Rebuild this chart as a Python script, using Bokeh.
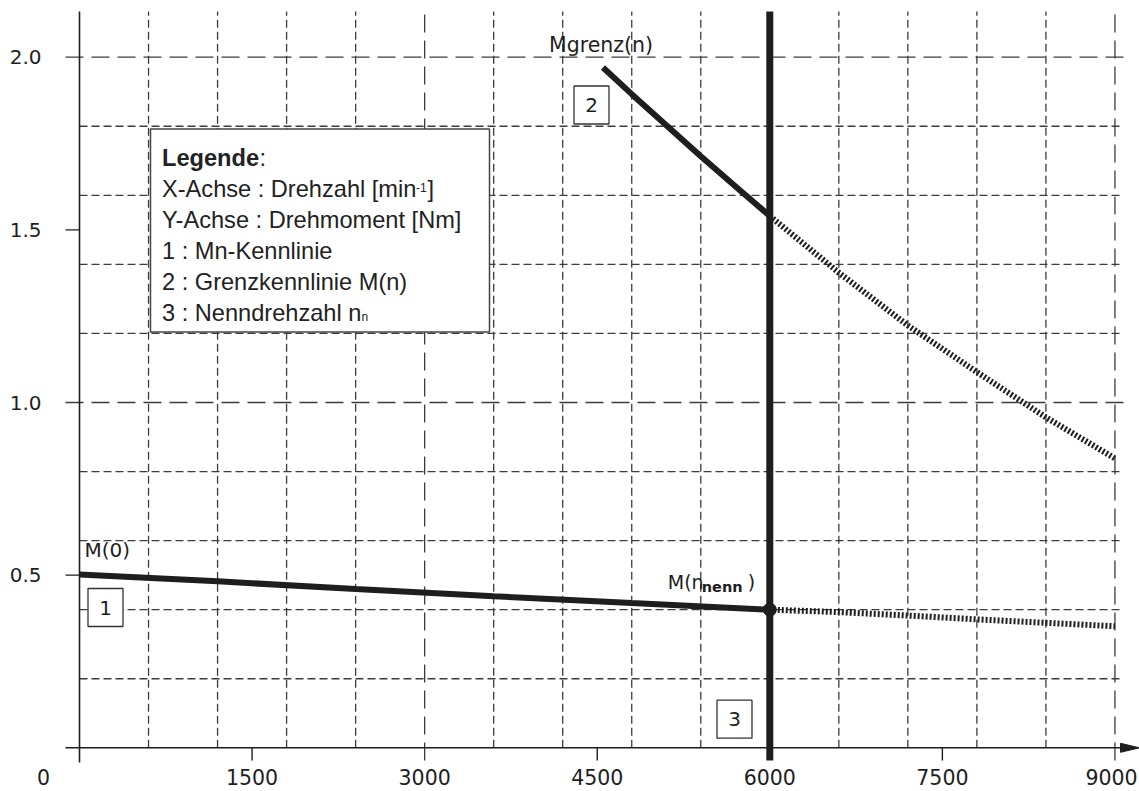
from bokeh.plotting import figure
from bokeh.models import Range1d
from bokeh.core.properties import value
from bokeh.embed import file_html
from bokeh.resources import INLINE

# ---------------- data ----------------
x_ticks = [0, 1500, 3000, 4500, 6000, 7500, 9000]
x_tick_labels = ["0", "1500", "3000", "4500", "6000", "7500", "9000"]
y_ticks = [0.5, 1.0, 1.5, 2.0]
y_tick_labels = ["0.5", "1.0", "1.5", "2.0"]
x_grid = [600 * k for k in range(1, 16)]
y_grid = [0.2, 0.4, 0.6, 0.8, 1.0, 1.2, 1.4, 1.6, 1.8, 2.0]
x_major = [3000, 6000, 9000]
y_major = [1.0, 2.0]

n_nenn = 6000
m_nenn = 0.4

# 1: Mn-Kennlinie (solid up to n_nenn, dotted beyond)
mn_n = [0, 1200, 2400, 3600, 4800, 6000]
mn_m = [0.502, 0.482, 0.460, 0.439, 0.419, 0.400]
mn_ext_n = [6000, 6600, 7200, 7800, 8400, 9000]
mn_ext_m = [0.400, 0.393, 0.383, 0.372, 0.362, 0.352]

# 2: Grenzkennlinie M(n)
gr_n = [4550, 4800, 5100, 5400, 5750, 6000]
gr_m = [1.970, 1.893, 1.803, 1.713, 1.612, 1.540]
gr_ext_n = [6000, 6600, 7200, 7800, 8400, 9000]
gr_ext_m = [1.540, 1.376, 1.223, 1.088, 0.957, 0.838]

legend_title = "Legende"
legend_lines = ["Y-Achse : Drehmoment [Nm]", "1 : Mn-Kennlinie",
                "2 : Grenzkennlinie M(n)"]

# ---------------- layout helpers ----------------
W, H = 1139, 791
X0, Y0 = 79.0, 747.3          # pixel position of the origin
PX, PY = 0.11505, 345.3       # pixels per data unit
def dx(px):  # pixel distance -> data x distance
    return px / PX
def dy(px):
    return px / PY
def xd(px):  # absolute pixel -> data x
    return (px - X0) / PX
def yd(py):
    return (Y0 - py) / PY

INK = "#1e1e1e"
GRID = "#3c3c3c"
TXT = "#222222"
DIN = "DejaVu Sans"
ARIAL = "Liberation Sans"
LFS = "23.6px"

p = figure(width=W, height=H, x_range=Range1d(xd(0), xd(W)), y_range=Range1d(yd(H), yd(0)),
           x_axis_type=None, y_axis_type=None, toolbar_location=None,
           output_backend="svg", min_border=0, outline_line_color=None,
           background_fill_color="white")
p.grid.visible = False

top = yd(11)
below = yd(760)

# ---------------- grid ----------------
vx_minor = [x for x in x_grid if x not in x_major]
p.segment(x0=vx_minor, y0=[0] * len(vx_minor), x1=vx_minor, y1=[top] * len(vx_minor),
          line_color=GRID, line_width=1.3, line_dash="8 4")
vx_major = [x for x in x_major if x != n_nenn]
p.segment(x0=vx_major, y0=[below] * len(vx_major), x1=vx_major, y1=[top] * len(vx_major),
          line_color=GRID, line_width=1.3, line_dash="18 8")
hy_minor = [y for y in y_grid if y not in y_major]
p.segment(x0=[0] * len(hy_minor), y0=hy_minor, x1=[xd(1123)] * len(hy_minor), y1=hy_minor,
          line_color=GRID, line_width=1.3, line_dash="8 4")
p.segment(x0=[xd(65)] * len(y_major), y0=y_major, x1=[xd(1123)] * len(y_major), y1=y_major,
          line_color=GRID, line_width=1.3, line_dash="18 8")

# ---------------- axes ----------------
p.segment(x0=[xd(65)], y0=[0], x1=[xd(1124)], y1=[0], line_color=INK, line_width=1.6)
p.patch(x=[xd(1120), xd(1139), xd(1120)], y=[dy(4.5), 0, -dy(4.5)],
        fill_color=INK, line_color=INK, line_width=1)
p.segment(x0=[0], y0=[yd(762)], x1=[0], y1=[top], line_color=INK, line_width=1.6)
xt_minor = [x for x in x_ticks if x not in x_major and x != 0]
p.segment(x0=xt_minor, y0=[0] * len(xt_minor), x1=xt_minor, y1=[below] * len(xt_minor),
          line_color=INK, line_width=1.4)
yt_minor = [y for y in y_ticks if y not in y_major]
p.segment(x0=[xd(65)] * len(yt_minor), y0=yt_minor, x1=[0] * len(yt_minor), y1=yt_minor,
          line_color=INK, line_width=1.4)

# tick labels
xl = [x if x != 0 else xd(43) for x in x_ticks]
xl[-1] = xd(1111)
p.text(x=xl, y=[yd(776)] * len(x_ticks), text=x_tick_labels, text_font=value(DIN),
       text_font_size="20.5px", text_color=INK, text_align="center", text_baseline="middle")
p.text(x=[xd(41)] * len(y_ticks), y=y_ticks, text=y_tick_labels, text_font=value(DIN),
       text_font_size="20px", text_color=INK, text_align="right", text_baseline="middle")

# ---------------- curves ----------------
p.segment(x0=[n_nenn], y0=[below], x1=[n_nenn], y1=[top], line_color=INK, line_width=7)
p.line(mn_n, mn_m, line_color=INK, line_width=6, line_cap="butt")
p.line(mn_ext_n, mn_ext_m, line_color=INK, line_width=6, line_dash="2 2")
p.line(gr_n, gr_m, line_color=INK, line_width=6, line_cap="butt")
p.line(gr_ext_n, gr_ext_m, line_color=INK, line_width=6, line_dash="2 2")
p.scatter([n_nenn], [m_nenn], size=13, color=INK)

# ---------------- curve labels ----------------
p.text(x=[mn_n[0]], y=[mn_m[0]], text=["M(0)"], text_font=value(DIN), text_font_size="20px",
       text_color=INK, x_offset=5, y_offset=-24, text_baseline="middle")
p.text(x=[gr_n[0]], y=[gr_m[0]], text=["Mgrenz(n)"], text_font=value(DIN), text_font_size="20.5px",
       text_color=INK, x_offset=-54, y_offset=-23, text_baseline="middle")
p.text(x=[n_nenn], y=[m_nenn], text=["M(n"], text_font=value(DIN), text_font_size="19px",
       text_color=INK, x_offset=-102, y_offset=-28, text_baseline="middle")
p.text(x=[n_nenn], y=[m_nenn], text=["nenn"], text_font=value(DIN), text_font_size="14.5px",
       text_font_style="bold", text_color=INK, x_offset=-68, y_offset=-23, text_baseline="middle")
p.text(x=[n_nenn], y=[m_nenn], text=[")"], text_font=value(DIN), text_font_size="19px",
       text_color=INK, x_offset=-22, y_offset=-28, text_baseline="middle")

# numbered boxes
box_cx = [xd(105), xd(591), xd(734)]
box_cy = [yd(607), yd(104.5), yd(718.7)]
p.rect(x=box_cx, y=box_cy, width=dx(35), height=dy(38), fill_color="white",
       line_color="#333333", line_width=1.3)
p.text(x=box_cx, y=box_cy, text=["1", "2", "3"], text_font=value(DIN), text_font_size="20px",
       text_color=INK, text_align="center", text_baseline="middle")

# ---------------- legend box ----------------
lx0, lx1, ly0, ly1 = xd(150), xd(489), yd(128.5), yd(331.5)
p.quad(left=[lx0], right=[lx1], top=[ly0], bottom=[ly1], fill_color="white",
       line_color="#444444", line_width=1.5)
tx = xd(161.5)
p.text(x=[tx], y=[yd(157)], text=[legend_title], text_font=value(ARIAL), text_font_size=LFS,
       text_font_style="bold", text_color=TXT, text_baseline="middle")
p.text(x=[xd(259)], y=[yd(157)], text=[":"], text_font=value(ARIAL), text_font_size=LFS,
       text_color=TXT, text_baseline="middle")
p.text(x=[tx], y=[yd(188)], text=["X-Achse : Drehzahl [min"], text_font=value(ARIAL),
       text_font_size=LFS, text_color=TXT, text_baseline="middle")
p.text(x=[xd(415.5)], y=[yd(187)], text=["-1"], text_font=value(ARIAL),
       text_font_size="12px", text_color=TXT, text_baseline="middle")
p.text(x=[xd(427)], y=[yd(188)], text=["]"], text_font=value(ARIAL),
       text_font_size=LFS, text_color=TXT, text_baseline="middle")
p.text(x=[tx] * 3, y=[yd(219.5), yd(250.5), yd(281.5)], text=legend_lines, text_font=value(ARIAL),
       text_font_size=LFS, text_color=TXT, text_baseline="middle")
p.text(x=[tx], y=[yd(312)], text=["3 : Nenndrehzahl n"], text_font=value(ARIAL),
       text_font_size=LFS, text_color=TXT, text_baseline="middle")
p.text(x=[xd(361)], y=[yd(316.5)], text=["n"], text_font=value(ARIAL),
       text_font_size="12px", text_color=TXT, text_baseline="middle")

open("out.html", "w").write(file_html(p, INLINE))
